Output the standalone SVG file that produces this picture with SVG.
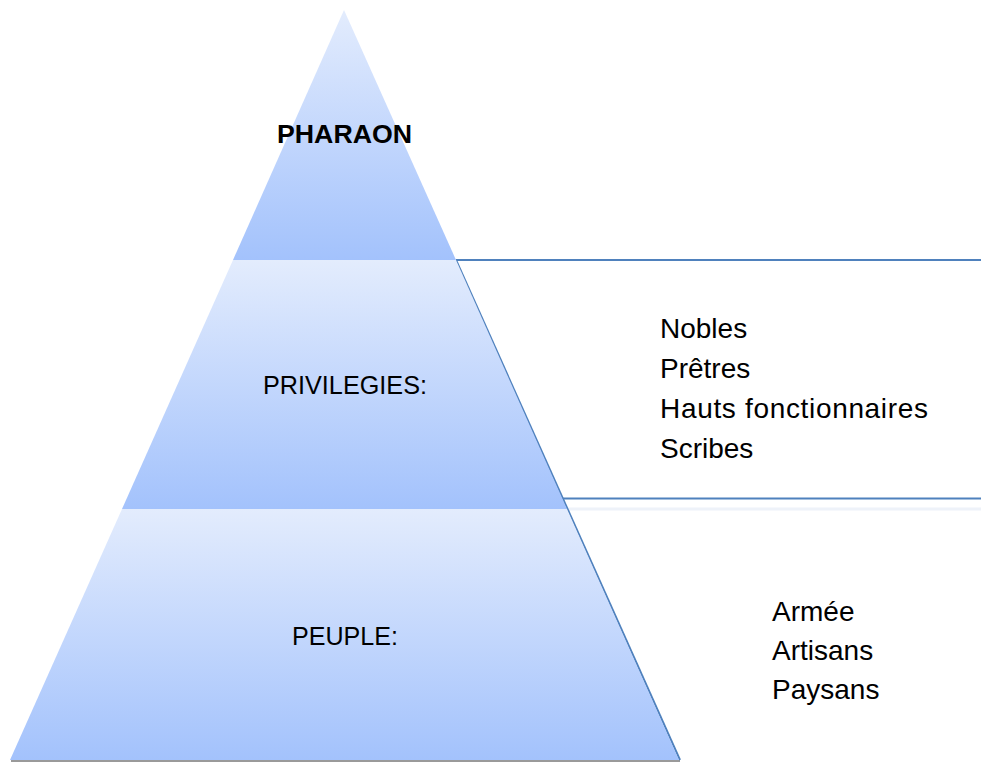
<svg xmlns="http://www.w3.org/2000/svg" width="981" height="762" viewBox="0 0 981 762">
<defs>
<linearGradient id="g" x1="0" y1="0" x2="0" y2="1">
<stop offset="0" stop-color="#e3ecfd"/>
<stop offset="1" stop-color="#a3c2fc"/>
</linearGradient>
</defs>
<style>
.lv{fill:url(#g);stroke:none}
.t{font-family:"Liberation Sans",Arial,sans-serif;font-size:26px;fill:#000}
.r{font-size:28px}
.c{text-anchor:middle}
.ln{stroke:#4f81bd;stroke-width:2;fill:none}
</style>
<rect width="981" height="762" fill="#fff"/>
<g id="connectors">
<line class="ln" x1="456" y1="260" x2="981" y2="260"/>
<line x1="567" y1="509" x2="981" y2="509" stroke="#eef2f9" stroke-width="3"/>
<line class="ln" x1="563" y1="498.5" x2="981" y2="498.5" stroke-width="2.5"/>
<line x1="11" y1="761" x2="680" y2="761" stroke="#9a9a9a" stroke-width="2"/>
<line class="ln" x1="456" y1="260" x2="680" y2="760" stroke-width="1.5"/>
</g>
<g id="pharaon">
<polygon class="lv" points="344,10 456,260 233,260"/>
<text class="t c" x="344.5" y="143" font-weight="bold" textLength="135" lengthAdjust="spacingAndGlyphs">PHARAON</text>
</g>
<g id="privilegies">
<polygon class="lv" points="233,260 456,260 567,509 122,509"/>
<text class="t c" x="345" y="394" textLength="164" lengthAdjust="spacingAndGlyphs">PRIVILEGIES:</text>
</g>
<g id="peuple">
<polygon class="lv" points="122,509 567,509 679,760 10,760"/>
<text class="t c" x="345" y="645" textLength="106" lengthAdjust="spacingAndGlyphs">PEUPLE:</text>
</g>
<g id="privilegies-list">
<text class="t r" x="660" y="338">Nobles</text>
<text class="t r" x="660" y="378">Prêtres</text>
<text class="t r" x="660" y="418" textLength="268" lengthAdjust="spacing">Hauts fonctionnaires</text>
<text class="t r" x="660" y="458">Scribes</text>
</g>
<g id="peuple-list">
<text class="t r" x="772" y="621">Armée</text>
<text class="t r" x="772" y="660">Artisans</text>
<text class="t r" x="772" y="699">Paysans</text>
</g>
</svg>
